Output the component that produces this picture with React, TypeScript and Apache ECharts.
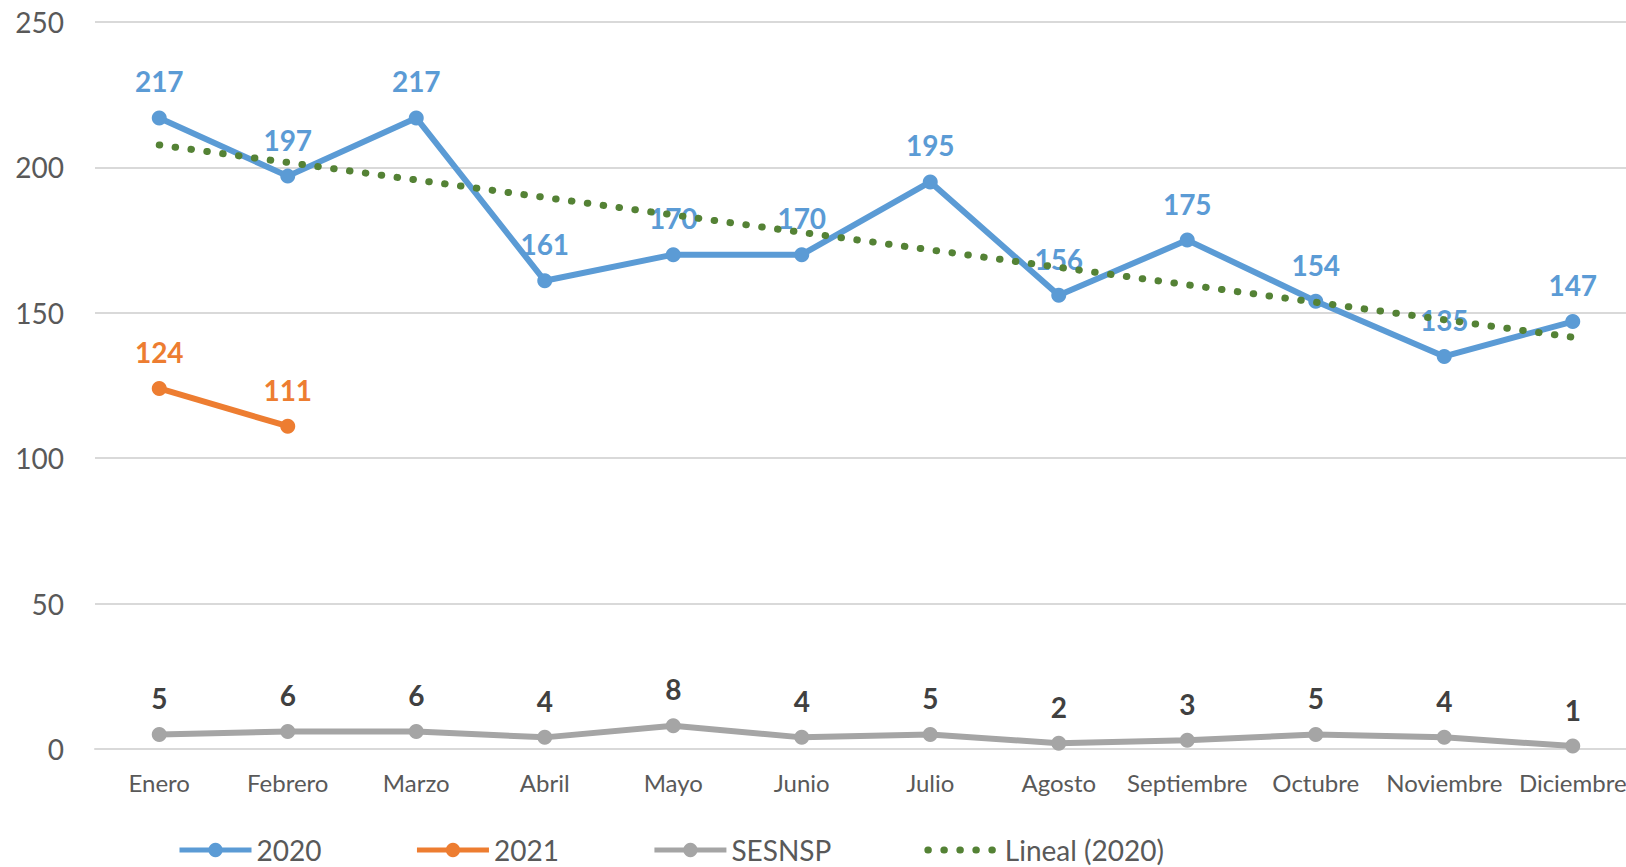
import React, { useEffect, useRef } from "react";
import * as echarts from "echarts";

const months = [
  "Enero", "Febrero", "Marzo", "Abril", "Mayo", "Junio",
  "Julio", "Agosto", "Septiembre", "Octubre", "Noviembre", "Diciembre",
];
const values2020 = [217, 197, 217, 161, 170, 170, 195, 156, 175, 154, 135, 147];
const values2021 = [124, 111, null, null, null, null, null, null, null, null, null, null];
const valuesSESNSP = [5, 6, 6, 4, 8, 4, 5, 2, 3, 5, 4, 1];
// Trend line endpoints (Lineal (2020))
const trend2020 = [207.7, null, null, null, null, null, null, null, null, null, null, 141.6];
const yMin = 0;
const yMax = 250;
const yStep = 50;

const FONT = "Lato";

export default function App() {
  const ref = useRef<HTMLDivElement>(null);
  useEffect(() => {
    document.body.style.margin = "0";
    const chart = echarts.init(ref.current!, undefined, { renderer: "svg" });
    const label = (color: string) => ({
      show: true,
      position: "top" as const,
      distance: 15,
      color,
      fontFamily: FONT,
      fontWeight: "bold" as const,
      fontSize: 28,
    });
    chart.setOption({
      animation: false,
      backgroundColor: "#ffffff",
      textStyle: { fontFamily: FONT },
      grid: {
        left: 95,
        top: 22,
        width: 1542,
        height: 727,
        containLabel: false,
        outerBoundsMode: "none",
      },
      legend: {
        left: 172,
        top: 831,
        itemWidth: 72,
        itemHeight: 18,
        itemGap: 93,
        lineStyle: { width: 5 },
        textStyle: { fontFamily: FONT, fontSize: 28, color: "#595959" },
        data: [
          "2020",
          "2021",
          "SESNSP",
          { name: "Lineal (2020)", itemStyle: { opacity: 0 }, lineStyle: { width: 7 } },
        ],
      },
      xAxis: {
        type: "category",
        data: months,
        boundaryGap: true,
        axisLine: { show: true, lineStyle: { color: "#D9D9D9", width: 2 } },
        axisTick: { show: false },
        axisLabel: { fontFamily: FONT, fontSize: 24, color: "#595959", margin: 21, interval: 0 },
      },
      yAxis: {
        type: "value",
        min: yMin,
        max: yMax,
        interval: yStep,
        axisLine: { show: false },
        axisTick: { show: false },
        axisLabel: { fontFamily: FONT, fontSize: 28, color: "#595959", margin: 31 },
        splitLine: { lineStyle: { color: "#D9D9D9", width: 2 } },
      },
      series: [
        {
          name: "2020",
          type: "line",
          data: values2020,
          z: 3,
          symbol: "circle",
          symbolSize: 15,
          itemStyle: { color: "#5B9BD5" },
          lineStyle: { color: "#5B9BD5", width: 6 },
          label: label("#5B9BD5"),
        },
        {
          name: "2021",
          type: "line",
          data: values2021,
          z: 3,
          symbol: "circle",
          symbolSize: 15,
          itemStyle: { color: "#ED7D31" },
          lineStyle: { color: "#ED7D31", width: 6 },
          label: label("#ED7D31"),
        },
        {
          name: "SESNSP",
          type: "line",
          data: valuesSESNSP,
          z: 3,
          symbol: "circle",
          symbolSize: 15,
          itemStyle: { color: "#A5A5A5" },
          lineStyle: { color: "#A5A5A5", width: 6 },
          label: label("#404040"),
        },
        {
          name: "Lineal (2020)",
          type: "line",
          data: trend2020,
          connectNulls: true,
          z: 5,
          showSymbol: false,
          symbol: "none",
          itemStyle: { color: "#548235" },
          lineStyle: { color: "#548235", width: 7, type: [0.5, 15.5], cap: "round" },
          silent: true,
        },
      ],
    });
    return () => chart.dispose();
  }, []);
  return (
    <div
      ref={ref}
      style={{ position: "fixed", left: 0, top: 0, width: 1626, height: 867 }}
    />
  );
}
